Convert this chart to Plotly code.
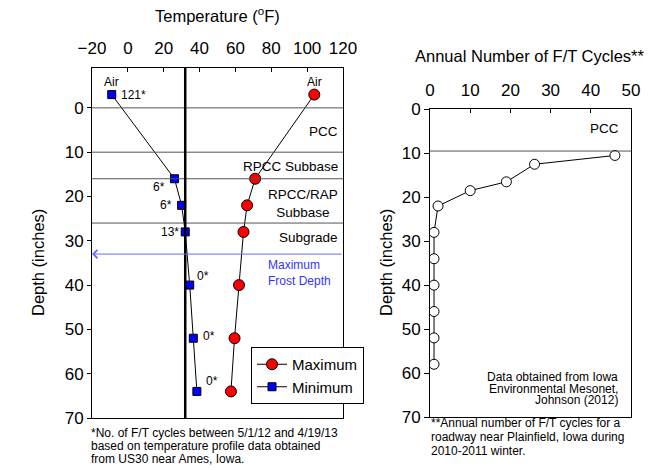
import plotly.graph_objects as go

W, H = 649, 470
FONT = "Liberation Sans, Arial, sans-serif"

# ---------------- data ----------------
depth_points = [-3, 16, 22, 28, 40, 52, 64]
temp_max = [104, 71, 66.5, 64.5, 62, 59.5, 57.5]
temp_min = [-9, 26, 30, 32, 34.5, 36.5, 38.5]
ft_cycle_labels = ["121*", "6*", "6*", "13*", "0*", "0*", "0*"]
freezing_temp = 32
layer_boundaries = [0, 10, 16, 26]
layer_names = ["PCC", "RPCC Subbase", "RPCC/RAP<br>Subbase", "Subgrade"]
layer_name_depths = [5.3, 13.2, 21.6, 29.3]
max_frost_depth = 33
temp_ticks = [-20, 0, 20, 40, 60, 80, 100, 120]
depth_ticks = [0, 10, 20, 30, 40, 50, 60, 70]

annual_cycles = [46, 26, 19, 10, 2, 1, 1, 1, 1, 1, 1]
annual_depths = [10.5, 12.5, 16.5, 18.5, 22, 28, 34, 40, 46, 52, 58]
annual_layer_boundary = [9.5]
cycle_ticks = [0, 10, 20, 30, 40, 50]


def px(x):
    return x / W


def py(y):
    return 1 - y / H


fig = go.Figure()

fig.add_trace(go.Scatter(
    x=temp_max, y=depth_points, mode="lines+markers", name="Maximum",
    line=dict(color="black", width=1),
    marker=dict(symbol="circle", size=11, color="#ff0000",
                line=dict(color="black", width=1)),
    xaxis="x", yaxis="y"))
fig.add_trace(go.Scatter(
    x=temp_min, y=depth_points, mode="lines+markers", name="Minimum",
    line=dict(color="black", width=1),
    marker=dict(symbol="square", size=8, color="#0000ff",
                line=dict(color="black", width=1)),
    xaxis="x", yaxis="y"))
fig.add_trace(go.Scatter(
    x=annual_cycles, y=annual_depths, mode="lines+markers", showlegend=False,
    line=dict(color="black", width=1),
    marker=dict(symbol="circle", size=10, color="white",
                line=dict(color="black", width=1)),
    xaxis="x2", yaxis="y2"))

shapes = []
for d in layer_boundaries:
    shapes.append(dict(type="line", xref="x domain", yref="y", x0=0, x1=1,
                       y0=d, y1=d, line=dict(color="#555555", width=1)))
for d in annual_layer_boundary:
    shapes.append(dict(type="line", xref="x2 domain", yref="y2", x0=0, x1=1,
                       y0=d, y1=d, line=dict(color="#555555", width=1)))
shapes.append(dict(type="line", xref="x", yref="y domain", x0=freezing_temp,
                   x1=freezing_temp, y0=0, y1=1,
                   line=dict(color="black", width=2.5)))

ann = []
# layer names
for name, d in zip(layer_names, layer_name_depths):
    ann.append(dict(text=name, xref="x domain", yref="y", x=1, y=d,
                    xanchor="right", yanchor="middle", xshift=-3,
                    showarrow=False, font=dict(size=13.5, color="black")))
ann.append(dict(text="PCC", xref="x2 domain", yref="y2", x=1, y=4.4,
                xanchor="right", yanchor="middle", xshift=-10,
                showarrow=False, font=dict(size=13.5, color="black")))

# Air labels
ann.append(dict(text="Air", xref="x", yref="y", x=temp_min[0], y=depth_points[0],
                yshift=13, showarrow=False, font=dict(size=12, color="black")))
ann.append(dict(text="Air", xref="x", yref="y", x=temp_max[0], y=depth_points[0],
                yshift=13, showarrow=False, font=dict(size=12, color="black")))

# F/T cycle labels next to minimum markers
label_offsets = [("left", 7, 0), ("right", -7, -8), ("right", -8, 0),
                 ("right", -4, 0), ("left", 5, 9), ("left", 8, 2),
                 ("left", 7, 10)]
for lab, t, d, (anc, dx, dy) in zip(ft_cycle_labels, temp_min, depth_points,
                                    label_offsets):
    ann.append(dict(text=lab, xref="x", yref="y", x=t, y=d, xanchor=anc,
                    yanchor="middle", xshift=dx, yshift=dy, showarrow=False,
                    font=dict(size=12, color="black")))

# max frost depth arrow
ann.append(dict(text="", xref="x", yref="y", x=-20, y=max_frost_depth,
                axref="x", ayref="y", ax=120, ay=max_frost_depth,
                showarrow=True, arrowhead=4, arrowsize=1.6, arrowwidth=1,
                arrowcolor="#6a6aff", standoff=0, startstandoff=0))
ann.append(dict(text="Maximum<br>Frost Depth", xref="x", yref="y", x=77,
                y=max_frost_depth + 4.2, xanchor="left", yanchor="middle",
                align="left", showarrow=False,
                font=dict(size=12, color="#3333ff")))

# titles
ann.append(dict(text="Temperature (<sup>o</sup>F)", xref="paper", yref="paper",
                x=px(217), y=py(15), xanchor="center", yanchor="middle",
                showarrow=False, font=dict(size=16.5, color="black")))
ann.append(dict(text="Annual Number of F/T Cycles**", xref="paper",
                yref="paper", x=px(530), y=py(56), xanchor="center",
                yanchor="middle", showarrow=False,
                font=dict(size=16.5, color="black")))
for xx in (38, 386):
    ann.append(dict(text="Depth (inches)", xref="paper", yref="paper",
                    x=px(xx), y=py(263), textangle=-90, xanchor="center",
                    yanchor="middle", showarrow=False,
                    font=dict(size=16.5, color="black")))

# data source note
for txt, yy in zip(["Data obtained from Iowa", "Environmental Mesonet,",
                    "Johnson (2012)"], [376.7, 388.5, 400.3]):
    ann.append(dict(text=txt, xref="paper", yref="paper", x=px(620), y=py(yy),
                    xanchor="right", yanchor="middle", showarrow=False,
                    font=dict(size=12, color="black")))

# footnotes
for txt, yy in zip(["*No. of F/T cycles between 5/1/12 and 4/19/13",
                    "based on temperature profile data obtained",
                    "from US30 near Ames, Iowa."], [432.7, 446, 459.3]):
    ann.append(dict(text=txt, xref="paper", yref="paper", x=px(89), y=py(yy),
                    xanchor="left", yanchor="middle", showarrow=False,
                    font=dict(size=12, color="black")))
for txt, yy in zip(["**Annual number of F/T cycles for a",
                    "roadway near Plainfield, Iowa during",
                    "2010-2011 winter."], [423.3, 437, 450.7]):
    ann.append(dict(text=txt, xref="paper", yref="paper", x=px(429), y=py(yy),
                    xanchor="left", yanchor="middle", showarrow=False,
                    font=dict(size=12, color="black")))

axis_common = dict(showline=True, linecolor="black", linewidth=1, mirror=True,
                   showgrid=False, zeroline=False, tickcolor="black",
                   automargin=False,
                   tickfont=dict(size=17, color="black"))

fig.update_layout(
    width=W, height=H, margin=dict(l=0, r=0, t=0, b=0, autoexpand=False),
    paper_bgcolor="white", plot_bgcolor="white",
    font=dict(family=FONT, color="black"),
    xaxis=dict(domain=[px(92), px(343)], range=[-20, 120], tickvals=temp_ticks,
               side="top", anchor="y", ticks="inside", ticklen=4,
               ticklabelstandoff=6, **axis_common),
    yaxis=dict(domain=[py(418), py(68)], range=[70, -9], tickvals=depth_ticks,
               anchor="x", ticks="outside", ticklen=4, **axis_common),
    xaxis2=dict(domain=[px(430), px(631)], range=[0, 50], tickvals=cycle_ticks,
                side="top", anchor="y2", ticks="inside", ticklen=4,
                ticklabelstandoff=6, **axis_common),
    yaxis2=dict(domain=[py(417), py(109.3)], range=[70, 0],
                tickvals=depth_ticks, anchor="x2", ticks="outside", ticklen=5,
                **axis_common),
    legend=dict(x=px(251), y=py(347), xanchor="left", yanchor="top",
                bordercolor="black", borderwidth=1, bgcolor="white",
                font=dict(size=15, color="black"), tracegroupgap=0),
    shapes=shapes, annotations=ann,
)

fig.write_html("out.html")
